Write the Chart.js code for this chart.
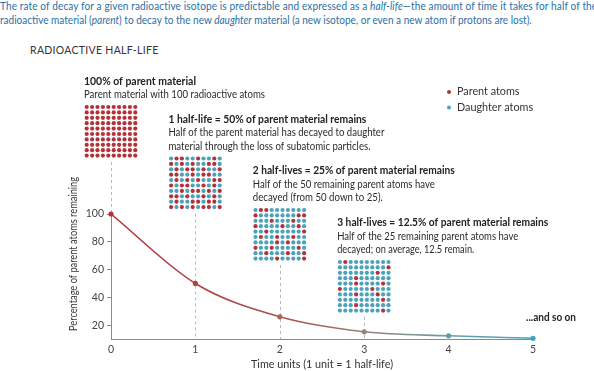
<!DOCTYPE html>
<html>
<head>
<meta charset="utf-8">
<script src="https://cdn.jsdelivr.net/npm/chart.js@4.4.1/dist/chart.umd.min.js"></script>
<style>
body{margin:0;background:#fff;width:594px;height:371px;overflow:hidden;position:relative;font-family:Lato,sans-serif}
#intro{position:absolute;left:0;top:-1px;color:#2a6fa6;font-size:11.8px;line-height:14px;white-space:nowrap;transform:scaleX(0.85);transform-origin:0 0}
#line1{letter-spacing:0.15px}
#heading{position:absolute;left:30px;top:44px;font-size:10.5px;color:#333;letter-spacing:0.3px}
canvas{position:absolute;left:0;top:0}
</style>
</head>
<body>
<div id="intro"><span id="line1">The rate of decay for a given radioactive isotope is predictable and expressed as a <em>half-life</em>—the amount of time it takes for half of the original</span><br>radioactive material (<em>parent</em>) to decay to the new <em>daughter</em> material (a new isotope, or even a new atom if protons are lost).</div>
<div id="heading">RADIOACTIVE HALF-LIFE</div>
<canvas id="myChart" width="594" height="371"></canvas>
<script>
// data (values as drawn in the picture, the tail flattens onto the axis)
const halfLives = [0, 1, 2, 3, 4, 5];
const parentPct = [100, 50, 26, 15.2, 12.3, 10.5];
const yTicks = [20, 40, 60, 80, 100];
const pointColors = ['#b3323a', '#b0463f', '#a7675c', '#958680', '#5d9fb0', '#3ea6c2'];

// atom grids shown over the first four half-lives (R = parent, B = daughter)
const atomGrids = [
    ['RRRRRRRRRR','RRRRRRRRRR','RRRRRRRRRR','RRRRRRRRRR','RRRRRRRRRR','RRRRRRRRRR','RRRRRRRRRR','RRRRRRRRRR','RRRRRRRRRR','RRRRRRRRRR'],
    ['BRRBBRBBRB','RBRBRBBRRB','BRBRRBRBBR','RRBBRBRRBB','BRBRBRBBRR','RBRRBBRBRB','BBRBRRBRBR','RRBRBBRBRB','BRBBRRBRRB','RBRBRBRRBR'],
    ['BRRBBBBBBB','RBBBBBBBRR','BBBRBBBRBB','RBBBBRBBRB','BBRBBBBBBR','BRBBRBBRBB','BBBBRBRBBB','RBBRBBBBRB','BBRBBBRBBR','BBBBRBBBBR'],
    ['BRBBBBBBBB','BBBBBBBBBR','BBBBBBBRBB','BBBRBBBBBB','BBBRBBBBRB','RBBBBBRBBB','BBBRBBBRBB','BBBBBBBBRB','BBBRBBBBBB','BBBBBBBBRB']
];
const stepTitles = [
    '100% of parent material',
    '1 half-life = 50% of parent material remains',
    '2 half-lives = 25% of parent material remains',
    '3 half-lives = 12.5% of parent material remains'
];
const stepNotes = [
    ['Parent material with 100 radioactive atoms'],
    ['Half of the parent material has decayed to daughter', 'material through the loss of subatomic particles.'],
    ['Half of the 50 remaining parent atoms have', 'decayed (from 50 down to 25).'],
    ['Half of the 25 remaining parent atoms have', 'decayed; on average, 12.5 remain.']
];
const legendLabels = ['Parent atoms', 'Daughter atoms'];

const RED = '#b3323a';
const TEAL = '#4aa3bb';
const gridTops = [105, 156.5, 208, 260]; // top row of each atom grid, px
const titleWidths = [112, 198, 202, 211];
const noteWidths = [[181], [216, 202], [182, 130], [181, 137]];

function lineGradient(context){
    let chart = context.chart
    if(!chart.chartArea) return RED
    let xs = chart.scales.x
    let g = chart.ctx.createLinearGradient(xs.getPixelForValue(0), 0, xs.getPixelForValue(5), 0)
    g.addColorStop(0, '#b3323a')
    g.addColorStop(0.4, '#b0514b')
    g.addColorStop(0.6, '#9a8079')
    g.addColorStop(0.78, '#6f9ba6')
    g.addColorStop(1, '#3ea6c2')
    return g
}

const decor = {
    id: 'decor',
    beforeDatasetsDraw(chart){
        let ctx = chart.ctx
        let xs = chart.scales.x, ys = chart.scales.y
        ctx.save()
        ctx.strokeStyle = '#b8b8b8'
        ctx.lineWidth = 1
        ctx.setLineDash([3, 3])
        for(let i = 0; i < atomGrids.length; i++){
            let x = Math.round(xs.getPixelForValue(halfLives[i])) + 0.5
            let top = gridTops[i] + 57
            let bottom = i == 0 ? ys.getPixelForValue(parentPct[0]) : chart.chartArea.bottom
            ctx.beginPath()
            ctx.moveTo(x, top)
            ctx.lineTo(x, bottom)
            ctx.stroke()
        }
        ctx.restore()
    },
    afterDraw(chart){
        let ctx = chart.ctx
        let xs = chart.scales.x
        ctx.save()
        // atom grids + their captions
        for(let i = 0; i < atomGrids.length; i++){
            let cx = xs.getPixelForValue(halfLives[i])
            let left = cx - 27
            atomGrids[i].forEach((row, r) => {
                for(let c = 0; c < row.length; c++){
                    ctx.fillStyle = row[c] == 'R' ? RED : TEAL
                    ctx.beginPath()
                    ctx.arc(cx + (c - 4.5) * 5.4, gridTops[i] + 2 + r * 5.4, 2.1, 0, Math.PI * 2)
                    ctx.fill()
                }
            })
            let notes = stepNotes[i]
            let y = gridTops[i] - 10
            ctx.textBaseline = 'middle'
            ctx.textAlign = 'left'
            ctx.fillStyle = '#2b2b2b'
            ctx.font = '10.8px Lato'
            for(let n = notes.length - 1; n >= 0; n--){
                ctx.fillText(notes[n], left, y, noteWidths[i][n])
                y -= 13.5
            }
            ctx.fillStyle = '#222'
            ctx.font = 'bold 10.8px Lato'
            ctx.fillText(stepTitles[i], left, y, titleWidths[i])
        }
        // ...and so on
        ctx.font = 'bold 10.8px Lato'
        ctx.fillStyle = '#222'
        ctx.fillText('...and so on', 526, 318, 50)
        // legend
        ctx.font = '10.8px Lato'
        legendLabels.forEach((lab, i) => {
            ctx.fillStyle = i == 0 ? RED : TEAL
            ctx.beginPath()
            ctx.arc(449, 92 + i * 15.5, 2, 0, Math.PI * 2)
            ctx.fill()
            ctx.fillStyle = '#333'
            ctx.fillText(lab, 457, 92 + i * 15.5)
        })
        // y axis title
        ctx.translate(74, 254)
        ctx.rotate(-Math.PI / 2)
        ctx.textAlign = 'center'
        ctx.fillStyle = '#333'
        ctx.font = '10.8px Lato'
        ctx.fillText('Percentage of parent atoms remaining', 0, 0, 154)
        ctx.restore()
    }
}

let chart1 = new Chart(document.getElementById('myChart').getContext('2d'), {
    type: 'scatter',
    data: {
        datasets: [{
            data: halfLives.map((x, i) => ({x: x, y: parentPct[i]})),
            showLine: true,
            cubicInterpolationMode: 'monotone',
            borderColor: lineGradient,
            borderWidth: 1.6,
            pointRadius: 2.6,
            pointBorderWidth: 0,
            pointBackgroundColor: pointColors,
            clip: false
        }]
    },
    options: {
        responsive: false,
        animation: false,
        layout: {padding: {left: 0, right: 61, top: 214, bottom: 0}},
        plugins: {legend: {display: false}, tooltip: {enabled: false}},
        scales: {
            x: {
                type: 'linear', min: 0, max: 5,
                afterFit: s => { s.height = 32 },
                ticks: {stepSize: 1, padding: 4, color: '#444', font: {family: 'Lato', size: 10.5}},
                grid: {drawOnChartArea: false, drawTicks: false},
                border: {color: '#8a8a8a'},
                title: {display: true, text: 'Time units (1 unit = 1 half-life)', color: '#333', font: {family: 'Lato', size: 10.8}, padding: {top: 0, bottom: 0}}
            },
            y: {
                min: 10, max: 100,
                afterFit: s => { s.width = 111 },
                afterBuildTicks: s => { s.ticks = yTicks.map(v => ({value: v})) },
                ticks: {padding: 3, color: '#444', font: {family: 'Lato', size: 10.5}},
                grid: {drawOnChartArea: false, drawTicks: true, tickLength: 4, color: '#8a8a8a'},
                border: {color: '#8a8a8a'}
            }
        }
    },
    plugins: [decor]
})
</script>
</body>
</html>
